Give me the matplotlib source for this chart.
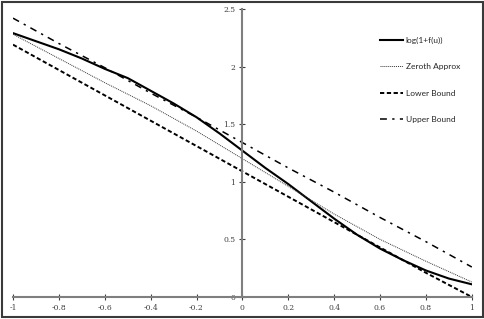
import matplotlib
matplotlib.use("Agg")
import matplotlib.pyplot as plt
from matplotlib.patches import Rectangle

# values
u_fine = [-1.0, -0.9, -0.8, -0.7, -0.6, -0.5, -0.4, -0.3, -0.2, -0.1, 0.0,
          0.1, 0.2, 0.3, 0.4, 0.5, 0.6, 0.7, 0.8, 0.9, 1.0]
log_f = [2.29, 2.22, 2.15, 2.07, 1.98, 1.90, 1.79, 1.68, 1.56, 1.42, 1.27,
         1.12, 0.98, 0.83, 0.68, 0.54, 0.42, 0.32, 0.23, 0.16, 0.11]

u = [-1.0, -0.8, -0.6, -0.4, -0.2, 0.0, 0.2, 0.4, 0.6, 0.8, 1.0]
zeroth = [2.28, 2.07, 1.86, 1.66, 1.44, 1.20, 0.96, 0.72, 0.50, 0.31, 0.13]
lower = [2.19, 1.97, 1.75, 1.53, 1.31, 1.09, 0.87, 0.65, 0.43, 0.21, 0.0]
upper = [2.42, 2.20, 1.99, 1.77, 1.56, 1.34, 1.12, 0.91, 0.69, 0.48, 0.26]

xticks = [-1, -0.8, -0.6, -0.4, -0.2, 0, 0.2, 0.4, 0.6, 0.8, 1]
xtick_labels = ["-1", "-0.8", "-0.6", "-0.4", "-0.2", "0", "0.2", "0.4", "0.6", "0.8", "1"]
yticks = [0, 0.5, 1, 1.5, 2, 2.5]
ytick_labels = ["0", "0.5", "1", "1.5", "2", "2.5"]

fig = plt.figure(figsize=(4.85, 3.19), dpi=100)
ax = fig.add_axes([0.0268, 0.069, 0.946, 0.903])

ax.plot(u_fine, log_f, color="black", lw=1.5, label="log(1+f(u))")
ax.plot(u, zeroth, color="#333333", lw=0.7, linestyle=(0, (1, 1)), label="Zeroth Approx")
ax.plot(u, lower, color="black", lw=1.4, linestyle=(0, (2.2, 1.3)), label="Lower Bound")
ax.plot(u, upper, color="black", lw=1.1, linestyle=(0, (4.5, 3.5, 1.5, 3.5)), label="Upper Bound")

ax.set_xlim(-1, 1)
ax.set_ylim(0, 2.5)

# axes cross at the origin, Excel style
for side in ["top", "right"]:
    ax.spines[side].set_visible(False)
ax.spines["left"].set_position(("data", 0))
ax.spines["bottom"].set_position(("data", 0))
for side in ["left", "bottom"]:
    ax.spines[side].set_color("#7f7f7f")
    ax.spines[side].set_linewidth(1.5)

ax.set_xticks(xticks)
ax.set_xticklabels(xtick_labels, family="DejaVu Serif", fontsize=5.5, color="#404040")
ax.set_yticks(yticks)
ax.set_yticklabels(ytick_labels, family="DejaVu Serif", fontsize=5.5, color="#404040")
ax.tick_params(direction="inout", length=4, width=0.8, color="#404040", pad=3)
ax.patch.set_visible(False)

leg = ax.legend(loc="upper left", bbox_to_anchor=(0.775, 0.897), bbox_transform=fig.transFigure,
                frameon=False, fontsize=6, handlelength=2.8, handletextpad=0.3,
                labelspacing=2.3, borderpad=0)
for t in leg.get_texts():
    t.set_family("Lato")
    t.set_color("#262626")

fig.patches.append(Rectangle((0.004, 0.006), 0.992, 0.988, transform=fig.transFigure,
                             fill=False, edgecolor="#3a3a3a", lw=1.5))

fig.savefig("out.png", dpi=100)
